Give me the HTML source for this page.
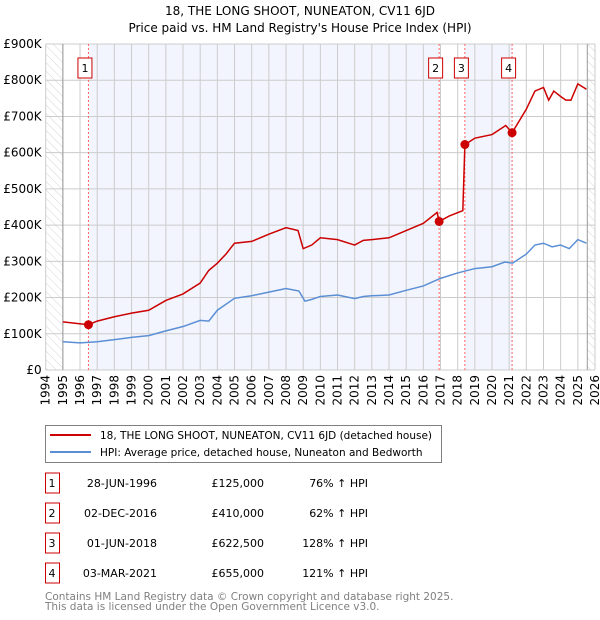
<!DOCTYPE html>
<html><head><meta charset="utf-8"><style>
body{margin:0;background:#fff;font-family:"DejaVu Sans","Liberation Sans",sans-serif}
svg{display:block}
</style></head><body>
<svg id="c" width="600" height="620" xmlns="http://www.w3.org/2000/svg" font-family="DejaVu Sans, Liberation Sans, sans-serif">
<defs><pattern id="hatch" width="6" height="6" patternUnits="userSpaceOnUse" patternTransform="rotate(-45)"><line x1="0" y1="0" x2="0" y2="6" stroke="#d4d4d4" stroke-width="1"/></pattern></defs>
<text x="300" y="15" text-anchor="middle" font-size="12">18, THE LONG SHOOT, NUNEATON, CV11 6JD</text>
<text x="300" y="32" text-anchor="middle" font-size="12">Price paid vs. HM Land Registry's House Price Index (HPI)</text>
<g id="plot"></g>
<g id="legend">
<rect x="45.5" y="425.5" width="396" height="37" fill="#fff" stroke="#808080"/>
<line x1="50" y1="435" x2="91" y2="435" stroke="#cc0000" stroke-width="2"/>
<text x="100" y="439" font-size="10.5">18, THE LONG SHOOT, NUNEATON, CV11 6JD (detached house)</text>
<line x1="50" y1="452" x2="91" y2="452" stroke="#5b8fd5" stroke-width="2"/>
<text x="100" y="456" font-size="10.5">HPI: Average price, detached house, Nuneaton and Bedworth</text>
</g>
<g id="table" font-size="11"></g>
<text x="45" y="600" font-size="10.5" fill="#808080">Contains HM Land Registry data © Crown copyright and database right 2025.</text>
<text x="45" y="610" font-size="10.5" fill="#808080">This data is licensed under the Open Government Licence v3.0.</text>
</svg>
<script>
const yTicks=[0,100,200,300,400,500,600,700,800,900];
const yTickLabels=["£0","£100K","£200K","£300K","£400K","£500K","£600K","£700K","£800K","£900K"];
const years=[1994,1995,1996,1997,1998,1999,2000,2001,2002,2003,2004,2005,2006,2007,2008,2009,2010,2011,2012,2013,2014,2015,2016,2017,2018,2019,2020,2021,2022,2023,2024,2025,2026];
const hpiX=[1995,1996,1997,1998,1999,2000,2001,2002,2003,2003.5,2004,2005,2006,2007,2008,2008.75,2009.1,2009.5,2010,2011,2012,2012.5,2013,2014,2015,2016,2017,2018,2019,2020,2020.75,2021.2,2022,2022.5,2023,2023.5,2024,2024.5,2025,2025.5];
const hpiY=[78,75,78,84,90,95,108,120,137,135,165,198,205,215,225,218,190,195,203,207,197,203,205,207,220,232,253,268,280,285,298,295,320,345,350,340,345,335,360,350];
const propX=[1995,1996.49,1997,1998,1999,2000,2001,2002,2003,2003.5,2004,2004.5,2005,2006,2007,2008,2008.7,2009.0,2009.5,2010,2011,2012,2012.5,2013,2014,2015,2016,2016.8,2016.92,2017.5,2018.3,2018.42,2019,2020,2020.8,2021.17,2022,2022.5,2023,2023.3,2023.6,2024,2024.3,2024.6,2025,2025.5];
const propY=[133,125,135,147,157,165,192,210,240,275,295,320,350,355,375,393,385,335,345,365,360,345,358,360,365,385,405,435,410,425,440,622,640,650,675,655,720,770,780,745,770,755,745,745,790,775];
const saleLabels=["1","2","3","4"];
const saleX=[1996.49,2016.92,2018.42,2021.17];
const saleY=[125,410,622.5,655];
const saleDates=["28-JUN-1996","02-DEC-2016","01-JUN-2018","03-MAR-2021"];
const salePrices=["£125,000","£410,000","£622,500","£655,000"];
const saleHpi=["76% ↑ HPI","62% ↑ HPI","128% ↑ HPI","121% ↑ HPI"];

const NS="http://www.w3.org/2000/svg";
const L=45.7,R=595,T=44,B=370,X0=1994,X1=2026;
const sx=v=>L+(v-X0)*(R-L)/(X1-X0);
const sy=v=>B-v*(B-T)/900;
const plot=document.getElementById('plot');
function mk(tag,at,parent){const e=document.createElementNS(NS,tag);for(const k in at)e.setAttribute(k,at[k]);(parent||plot).appendChild(e);return e;}

let e;
e=mk('rect',{x:L,y:T,width:R-L,height:B-T,fill:'#fff'});


e=mk('rect',{x:sx(saleX[0]),y:T,width:sx(saleX[1])-sx(saleX[0]),height:B-T,fill:'#f2f5fd'});


e=mk('rect',{x:sx(saleX[2]),y:T,width:sx(saleX[3])-sx(saleX[2]),height:B-T,fill:'#f2f5fd'});


e=mk('rect',{x:L,y:T,width:sx(1995)-L,height:B-T,fill:'url(#hatch)'});


e=mk('rect',{x:sx(2025.55),y:T,width:R-sx(2025.55),height:B-T,fill:'url(#hatch)'});



yTicks.forEach((t,i)=>{
 const g=mk('line',{x1:L,x2:R,y1:sy(t),y2:sy(t),stroke:'#cccccc','stroke-width':1});
 
 
 const tx=mk('text',{x:L-4,y:sy(t)+4,'text-anchor':'end','font-size':12});
 tx.textContent=yTickLabels[i];
 
 
});
years.forEach(y=>{
 const g=mk('line',{x1:sx(y),x2:sx(y),y1:T,y2:B,stroke:'#cccccc','stroke-width':1});
 
 
 const tx=mk('text',{x:sx(y)+4,y:B+5,'text-anchor':'end','font-size':12,transform:`rotate(-90 ${sx(y)+4} ${B+5})`});
 tx.textContent=y;
 
 
});
e=mk('line',{x1:sx(1995),x2:sx(1995),y1:T,y2:B,stroke:'#999'});


e=mk('line',{x1:sx(2025.55),x2:sx(2025.55),y1:T,y2:B,stroke:'#999'});



saleX.forEach((s,i)=>{
 const l=mk('line',{x1:sx(s),x2:sx(s),y1:T,y2:B,stroke:'#ff6666','stroke-dasharray':'2,2','stroke-width':1});
 
 
});

e=mk('polyline',{points:hpiX.map((x,i)=>sx(x)+','+sy(hpiY[i])).join(' '),fill:'none',stroke:'#5b8fd5','stroke-width':1.5});


e=mk('polyline',{points:propX.map((x,i)=>sx(x)+','+sy(propY[i])).join(' '),fill:'none',stroke:'#cc0000','stroke-width':1.5});


saleX.forEach((s,i)=>{
 const c=mk('circle',{cx:sx(s),cy:sy(saleY[i]),r:4.5,fill:'#cc0000'});
 
 
 const r=mk('rect',{x:sx(s)-10.5,y:58,width:14,height:20,fill:'#fff',stroke:'#cc0000'});
 
 
 const t=mk('text',{x:sx(s)-3.5,y:72,'text-anchor':'middle','font-size':11});
 t.textContent=saleLabels[i];
 
 
});

const tb=document.getElementById('table');
saleLabels.forEach((s,i)=>{
 const y=483+i*30;
 const r=mk('rect',{x:45.5,y:y-10,width:14,height:20,fill:'#fff',stroke:'#cc0000'},tb);
 
 
 const vals=[[52,s,'middle'],[157,saleDates[i],'end'],[264,salePrices[i],'end'],[368,saleHpi[i],'end']];
 vals.forEach(v=>{
  const t=mk('text',{x:v[0],y:y+4,'text-anchor':v[2]},tb);
  t.textContent=v[1];
  
  
 });
});
</script>
</body></html>
